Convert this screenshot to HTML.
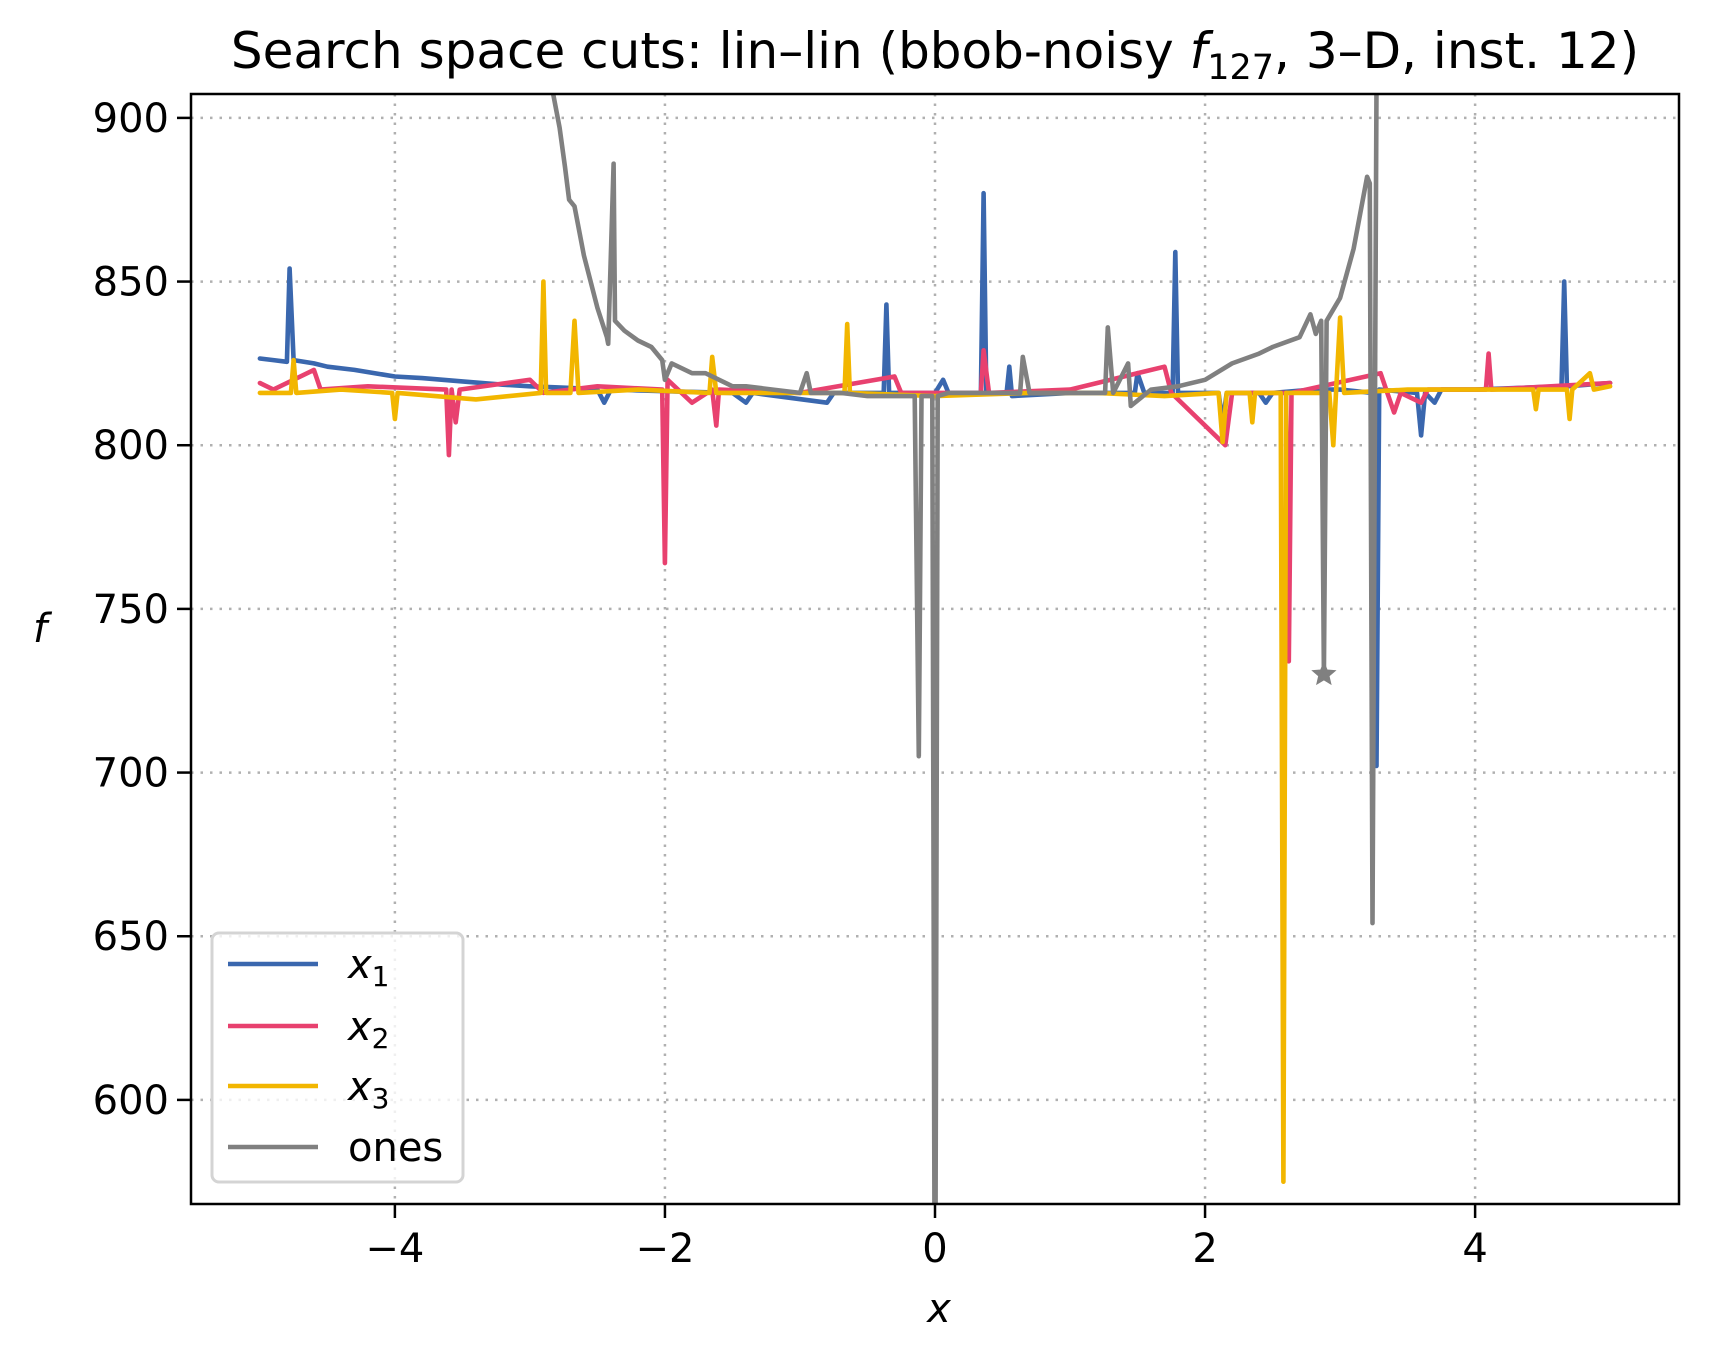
<!DOCTYPE html>
<html><head><meta charset="utf-8">
<style>
html,body{margin:0;padding:0;background:#fff;overflow:hidden;width:1709px;height:1359px;}
svg{display:block;font-family:"DejaVu Sans","Liberation Sans",sans-serif;}
</style></head>
<body>
<svg id="chart" width="1709" height="1359" viewBox="0 0 1709 1359" xmlns="http://www.w3.org/2000/svg">
<defs><clipPath id="plotclip"><rect x="191" y="94" width="1488" height="1110"/></clipPath></defs>
<text x="935" y="68" font-size="50" text-anchor="middle">Search space cuts: lin–lin (bbob-noisy <tspan font-style="italic">f</tspan><tspan font-size="35" dy="11">127</tspan><tspan dy="-11">, 3–D, inst. 12)</tspan></text>
<g id="grid"></g>
<g id="series" clip-path="url(#plotclip)"></g>
<rect x="191" y="94" width="1488" height="1110" fill="none" stroke="#000" stroke-width="2.5"/>
<g id="ticks"></g>
<text x="939" y="1322" font-size="40" font-style="italic" text-anchor="middle">x</text>
<text x="40" y="642" font-size="40" font-style="italic" text-anchor="middle">f</text>
<g>
<rect x="212" y="933" width="251" height="249" rx="7" fill="#fff" fill-opacity="0.8" stroke="#d4d4d4" stroke-width="3"/>
<line x1="228" y1="964" x2="318" y2="964" stroke="#3a67ae" stroke-width="4.5"/>
<text x="348" y="978" font-size="40" font-style="italic">x<tspan font-size="28" dy="8" font-style="normal">1</tspan></text>
<line x1="228" y1="1026" x2="318" y2="1026" stroke="#e8416f" stroke-width="4.5"/>
<text x="348" y="1040" font-size="40" font-style="italic">x<tspan font-size="28" dy="8" font-style="normal">2</tspan></text>
<line x1="228" y1="1086" x2="318" y2="1086" stroke="#f2b600" stroke-width="4.5"/>
<text x="348" y="1100" font-size="40" font-style="italic">x<tspan font-size="28" dy="8" font-style="normal">3</tspan></text>
<line x1="228" y1="1147" x2="318" y2="1147" stroke="#808080" stroke-width="4.5"/>
<text x="348" y="1161" font-size="40">ones</text>
</g>
</svg>
<script>
const xTicks=[-4,-2,0,2,4];
const xTickLabels=["−4","−2","0","2","4"];
const yTicks=[600,650,700,750,800,850,900];
const yTickLabels=["600","650","700","750","800","850","900"];
const x1X=[-5,-4.9,-4.8,-4.78,-4.75,-4.6,-4.5,-4.3,-4.0,-3.8,-3.5,-3.2,-3.0,-2.7,-2.5,-2.45,-2.4,-2.0,-1.5,-1.4,-1.35,-0.8,-0.75,-0.38,-0.36,-0.34,0.0,0.06,0.1,0.34,0.36,0.38,0.53,0.55,0.57,1.0,1.48,1.5,1.55,1.76,1.78,1.8,2.1,2.13,2.16,2.4,2.45,2.5,2.8,3.0,3.24,3.27,3.29,3.57,3.6,3.63,3.7,3.75,4.0,4.64,4.66,4.68,5.0];
const x1Y=[826.5,826,825.5,854,826,825,824,823,821,820.5,819.5,818.5,818,817.5,817,813,817,816.5,816,813,816,813,816,816,843,816,816,820,816,816,877,816,816,824,815,816,816,822,816,816,859,816,816,807,816,816,813,816,817,817,816,702,817,816,803,816,813,817,817,818,850,818,819];
const x2X=[-5,-4.9,-4.6,-4.55,-4.2,-3.62,-3.6,-3.58,-3.55,-3.52,-3.0,-2.9,-2.5,-2.02,-2.0,-1.98,-1.8,-1.65,-1.62,-1.6,-1.0,-0.3,-0.25,0.34,0.36,0.4,1.0,1.7,1.75,2.15,2.2,2.6,2.62,2.64,3.3,3.35,3.4,3.45,3.6,3.65,4.08,4.1,4.12,5.0];
const x2Y=[819,817,823,817,818,817,797,817,807,817,820,816,818,817,764,820,813,817,806,817,816,821,816,816,829,816,817,824,816,800,816,816,734,816,822,816,810,816,813,817,817,828,817,819];
const x3X=[-5,-4.77,-4.75,-4.73,-4.4,-4.02,-4.0,-3.98,-3.4,-2.92,-2.9,-2.88,-2.7,-2.67,-2.64,-2.2,-1.67,-1.65,-1.62,-0.67,-0.65,-0.63,0.0,0.7,1.2,1.7,2.1,2.13,2.16,2.33,2.35,2.37,2.56,2.58,2.6,2.92,2.95,2.97,3.0,3.03,3.5,4.43,4.45,4.47,4.68,4.7,4.72,4.85,4.88,5.0];
const x3Y=[816,816,826,816,817,816,808,816,814,816,850,816,816,838,816,817,816,827,816,816,837,816,815,816,816,815,816,801,816,816,807,816,816,575,816,816,800,816,839,816,817,817,811,817,817,808,817,822,817,818];
const onesX=[-2.84,-2.78,-2.74,-2.71,-2.67,-2.6,-2.5,-2.43,-2.42,-2.38,-2.37,-2.3,-2.2,-2.1,-2.02,-2.0,-1.95,-1.8,-1.7,-1.5,-1.4,-1.2,-1.0,-0.95,-0.92,-0.7,-0.5,-0.3,-0.15,-0.12,-0.1,-0.02,0.0,0.02,0.1,0.3,0.5,0.63,0.65,0.7,1.0,1.26,1.28,1.32,1.43,1.45,1.6,1.8,2.0,2.2,2.4,2.5,2.7,2.78,2.82,2.86,2.88,2.9,3.0,3.1,3.2,3.22,3.24,3.27,3.3];
const onesY=[910,897,885,875,873,858,842,833,831,886,838,835,832,830,826,820,825,822,822,818,818,817,816,822,816,816,815,815,815,705,815,815,500,815,816,816,816,816,827,816,816,816,836,816,825,812,817,818,820,825,828,830,833,840,834,838,730,838,845,860,882,880,654,910,930];
const starX=[2.88];
const starY=[730];

const NS="http://www.w3.org/2000/svg";
const X0=191,X1=1679,Y0=94,Y1=1204;
const xmin=-5.51,xmax=5.51,ymin=568.2,ymax=907.3;
function sx(v){return X0+(v-xmin)/(xmax-xmin)*(X1-X0);}
function sy(v){return Y1-(v-ymin)/(ymax-ymin)*(Y1-Y0);}
function mk(tag,attrs,parent){const e=document.createElementNS(NS,tag);for(const k in attrs)e.setAttribute(k,attrs[k]);parent.appendChild(e);return e;}
const grid=document.getElementById('grid'),ticks=document.getElementById('ticks'),series=document.getElementById('series');
xTicks.forEach((t,i)=>{
  const g=mk('line',{x1:sx(t),x2:sx(t),y1:Y0,y2:Y1,stroke:'#b0b0b0','stroke-width':2.5,'stroke-dasharray':'2.5 7'},grid);
  
  
  const tk=mk('line',{x1:sx(t),x2:sx(t),y1:Y1,y2:Y1+14,stroke:'#000','stroke-width':2.5},ticks);
  
  
  const lb=mk('text',{x:sx(t),y:Y1+58,'font-size':40,'text-anchor':'middle'},ticks);
  lb.textContent=xTickLabels[i];
  
  
});
yTicks.forEach((t,i)=>{
  const g=mk('line',{x1:X0,x2:X1,y1:sy(t),y2:sy(t),stroke:'#b0b0b0','stroke-width':2.5,'stroke-dasharray':'2.5 7'},grid);
  
  
  const tk=mk('line',{x1:X0-14,x2:X0,y1:sy(t),y2:sy(t),stroke:'#000','stroke-width':2.5},ticks);
  
  
  const lb=mk('text',{x:X0-22,y:sy(t)+14,'font-size':40,'text-anchor':'end'},ticks);
  lb.textContent=yTickLabels[i];
  
  
});
function line(xs,ys,color,name){
  const d=xs.map((v,i)=>(i?'L':'M')+sx(v).toFixed(1)+' '+sy(ys[i]).toFixed(1)).join(' ');
  const p=mk('path',{d:d,fill:'none',stroke:color,'stroke-width':4.6,'stroke-linejoin':'round','stroke-linecap':'round'},series);
  
  
}
line(x1X,x1Y,'#3a67ae','series-x1');
line(x2X,x2Y,'#e8416f','series-x2');
line(x3X,x3Y,'#f2b600','series-x3');
line(onesX,onesY,'#808080','series-ones');
starX.forEach((v,i)=>{
  const cx=sx(v),cy=sy(starY[i]),r=12,pts=[];
  for(let k=0;k<10;k++){const a=-Math.PI/2+k*Math.PI/5,rr=k%2?r*0.45:r;pts.push((cx+rr*Math.cos(a)).toFixed(1)+','+(cy+rr*Math.sin(a)).toFixed(1));}
  const s=mk('polygon',{points:pts.join(' '),fill:'#808080',stroke:'#808080','stroke-width':1},series);
  
  
});
</script>
</body></html>
